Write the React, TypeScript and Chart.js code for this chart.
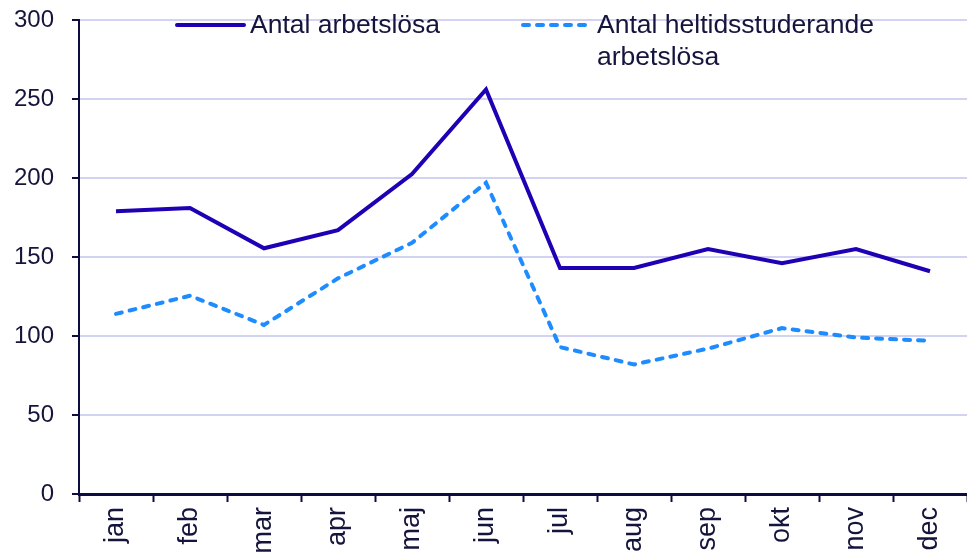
import React, { useEffect, useRef } from "react";
import { Chart, registerables } from "chart.js";

Chart.register(...registerables);

const months = ["jan", "feb", "mar", "apr", "maj", "jun", "jul", "aug", "sep", "okt", "nov", "dec"];
const arbetslosa = [179, 181, 155.5, 167, 202.5, 256, 143, 143, 155, 146, 155, 141];
const heltidsstuderande = [114, 125.5, 107, 136.5, 159, 197, 93, 82, 92, 105, 99, 97];
const seriesNames = ["Antal arbetslösa", ["Antal heltidsstuderande", "arbetslösa"]];

const FONT = "'Liberation Sans', Arial, sans-serif";
const TEXT = "#14143c";
const AXIS = "#0c0c40";
const GRID = "#d2d2f2";
const SOLID = "#2000b4";
const DASH = "#1e8cff";

const legendPlugin = {
  id: "customLegend",
  afterDraw(chart: any) {
    const ctx = chart.ctx;
    ctx.save();
    ctx.font = `26.5px ${FONT}`;
    ctx.fillStyle = TEXT;
    ctx.textBaseline = "middle";
    ctx.textAlign = "left";
    ctx.lineWidth = 4;
    ctx.strokeStyle = SOLID;
    ctx.lineCap = "round";
    ctx.setLineDash([]);
    ctx.beginPath();
    ctx.moveTo(177, 25);
    ctx.lineTo(244, 25);
    ctx.stroke();
    ctx.fillText(seriesNames[0] as string, 250, 26);
    ctx.strokeStyle = DASH;
    ctx.setLineDash([6, 8]);
    ctx.beginPath();
    ctx.moveTo(523, 25);
    ctx.lineTo(592, 25);
    ctx.stroke();
    const lines = seriesNames[1] as string[];
    lines.forEach((t, i) => ctx.fillText(t, 597, 26 + i * 32));
    ctx.restore();
  },
};

export default function App() {
  const ref = useRef<HTMLCanvasElement>(null);
  useEffect(() => {
    document.body.style.margin = "0";
    const chart = new Chart(ref.current!, {
      type: "line",
      data: {
        labels: months,
        datasets: [
          {
            label: "Antal arbetslösa",
            data: arbetslosa,
            borderColor: SOLID,
            borderWidth: 4,
            pointRadius: 0,
            tension: 0,
          },
          {
            label: "Antal heltidsstuderande arbetslösa",
            data: heltidsstuderande,
            borderColor: DASH,
            borderWidth: 4,
            borderDash: [6, 8],
            borderCapStyle: "round",
            pointRadius: 0,
            tension: 0,
          },
        ],
      },
      options: {
        responsive: false,
        animation: false,
        layout: { padding: { top: 0, right: 0, left: 0, bottom: 0 } },
        plugins: { legend: { display: false }, tooltip: { enabled: false } },
        scales: {
          x: {
            offset: true,
            grid: {
              offset: true,
              drawOnChartArea: false,
              drawTicks: true,
              tickLength: 8,
              tickColor: AXIS,
              tickWidth: 2,
            },
            border: { color: AXIS, width: 3 },
            ticks: {
              color: TEXT,
              font: { family: FONT, size: 27 },
              minRotation: 90,
              maxRotation: 90,
              padding: 5,
              autoSkip: false,
            },
            afterFit: (s: any) => {
              s.height = 61;
              s.paddingTop = 0;
              s.paddingLeft = 0;
              s.paddingRight = 0;
            },
          },
          y: {
            min: 0,
            max: 300,
            ticks: {
              stepSize: 50,
              color: TEXT,
              font: { family: FONT, size: 24 },
              padding: 18,
            },
            grid: {
              color: GRID,
              lineWidth: 2,
              drawTicks: true,
              tickLength: 7,
              tickColor: AXIS,
              tickWidth: 2,
            },
            border: { color: AXIS, width: 2 },
            afterFit: (s: any) => {
              s.width = 79;
              s.paddingTop = 20;
              s.paddingBottom = 0;
            },
          },
        },
      },
      plugins: [legendPlugin],
    });
    return () => chart.destroy();
  }, []);
  return (
    <div style={{ width: 967, height: 555 }}>
      <canvas ref={ref} width={967} height={555} style={{ display: "block" }} />
    </div>
  );
}
